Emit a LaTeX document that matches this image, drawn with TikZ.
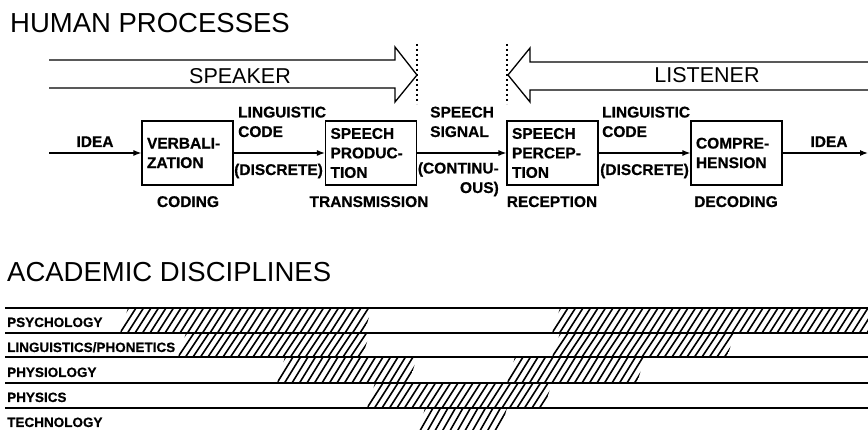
\documentclass[tikz,border=0pt]{standalone}
\usepackage{fontspec}
\setmainfont{Liberation Sans}
\newfontfamily\diagheavy[BoldFeatures={FakeBold=0.6}]{Liberation Sans}
\usetikzlibrary{arrows.meta,positioning}
\newcommand{\diagboxfont}{\diagheavy\fontsize{15.5}{19.5}\selectfont\bfseries}
\newcommand{\diagrowfont}{\diagheavy\fontsize{13.5}{16}\selectfont\bfseries}
\newcommand{\diagtitlefont}{\fontsize{27.5}{32}\selectfont}
\newcommand{\diagarrowfont}{\fontsize{21.5}{25}\selectfont}
\tikzset{
  procbox/.style={draw, line width=1.2pt, text width=81pt, inner sep=5pt, minimum height=64pt, align=left, font=\diagboxfont},
  lbl/.style={inner sep=0pt, align=left, font=\diagboxfont},
  line/.style={-{Latex[length=8pt,width=6pt]}, line width=1.2pt},
  bigarrow/.style={line width=1.3pt, line join=miter},
  divider/.style={line width=1.8pt, dash pattern=on 2.5pt off 2.5pt},
  rule/.style={line width=1.4pt},
  hatch/.style={line width=1.6pt},
  rowlabel/.style={anchor=base west, inner sep=0pt, font=\diagrowfont},
  title/.style={anchor=base west, inner sep=0pt, font=\diagtitlefont}
}
% one hatched band of the table: top, bottom, from, to
\newcommand{\hatchband}[4]{%
  \begin{scope}
    \clip (#3,#2) -- (#3+8,#1) -- (#4,#1) -- (#4-8,#2) -- cycle;
    \foreach \k in {0,...,50}
      \draw[hatch] ({#3-30+7.5*\k},#2) -- ({#3-14+7.5*\k},#1);
  \end{scope}}

\begin{document}
\begin{tikzpicture}[x=1pt, y=-1pt]
  \useasboundingbox (0,0) rectangle (868,430);

  % human processes
  \node[title] (htitle) at (10,33) {HUMAN PROCESSES};

  \draw[bigarrow] (49,60) -- (395,60) -- (395,47) -- (417,75) -- (395,102) -- (395,88) -- (49,88);
  \node[anchor=base, inner sep=0pt, font=\diagarrowfont] (speaker) at (240,84) {SPEAKER};
  \draw[bigarrow] (868,62) -- (530,62) -- (530,48) -- (508,75) -- (530,102) -- (530,90) -- (868,90);
  \node[anchor=base, inner sep=0pt, font=\diagarrowfont] (listener) at (707,83) {LISTENER};
  \draw[divider] (417,44) -- (417,104);
  \draw[divider] (507,44) -- (507,104);

  \node[procbox] (verb) at (187.5,153) {VERBALI-\\ZATION};
  \node[procbox] (prod) at (371,153) {SPEECH\\PRODUC-\\TION};
  \node[procbox] (perc) at (552.5,153) {SPEECH\\PERCEP-\\TION};
  \node[procbox] (comp) at (736.5,153) {COMPRE-\\HENSION};
  \coordinate (ideain) at (49,153);
  \coordinate (ideaout) at (868,153);

  \draw[line] (ideain) -- (verb);
  \draw[line] (verb) -- (prod);
  \draw[line] (prod) -- (perc);
  \draw[line] (perc) -- (comp);
  \draw[line] (comp) -- (ideaout);

  \node[lbl, anchor=base] (idea1) at (95,147) {IDEA};
  \node[lbl, anchor=base west] (code1) at (238,137) {LINGUISTIC\\CODE};
  \node[lbl, anchor=base west] (disc1) at (234,175) {(DISCRETE)};
  \node[lbl, anchor=base west] (signal) at (430,137) {SPEECH\\SIGNAL};
  \node[lbl, anchor=base east, align=right] (cont) at (499,193) {(CONTINU-\\OUS)};
  \node[lbl, anchor=base west] (code2) at (602,137) {LINGUISTIC\\CODE};
  \node[lbl, anchor=base west] (disc2) at (600,175) {(DISCRETE)};
  \node[lbl, anchor=base] (idea2) at (829,147) {IDEA};

  \node[lbl, anchor=base] (coding) at (188,207) {CODING};
  \node[lbl, anchor=base] (transm) at (369,207) {TRANSMISSION};
  \node[lbl, anchor=base] (recep) at (552,207) {RECEPTION};
  \node[lbl, anchor=base] (decod) at (736,207) {DECODING};

  % academic disciplines
  \node[title] (atitle) at (7,282) {ACADEMIC DISCIPLINES};

  \foreach \ry in {308,333,357,383,408}
    \draw[rule] (5,\ry) -- (868,\ry);

  \hatchband{308}{333}{120}{372}
  \hatchband{308}{333}{552}{890}
  \hatchband{333}{357}{178}{370}
  \hatchband{333}{357}{552}{735}
  \hatchband{357}{383}{277}{417}
  \hatchband{357}{383}{507}{645}
  \hatchband{383}{408}{367}{552}
  \hatchband{408}{436}{417}{507}

  \node[rowlabel] (psy) at (7,327) {PSYCHOLOGY};
  \node[rowlabel] (ling) at (7,352) {LINGUISTICS/PHONETICS};
  \node[rowlabel] (physio) at (7,377) {PHYSIOLOGY};
  \node[rowlabel] (phys) at (7,402) {PHYSICS};
  \node[rowlabel] (tech) at (7,427) {TECHNOLOGY};
\end{tikzpicture}
\end{document}
